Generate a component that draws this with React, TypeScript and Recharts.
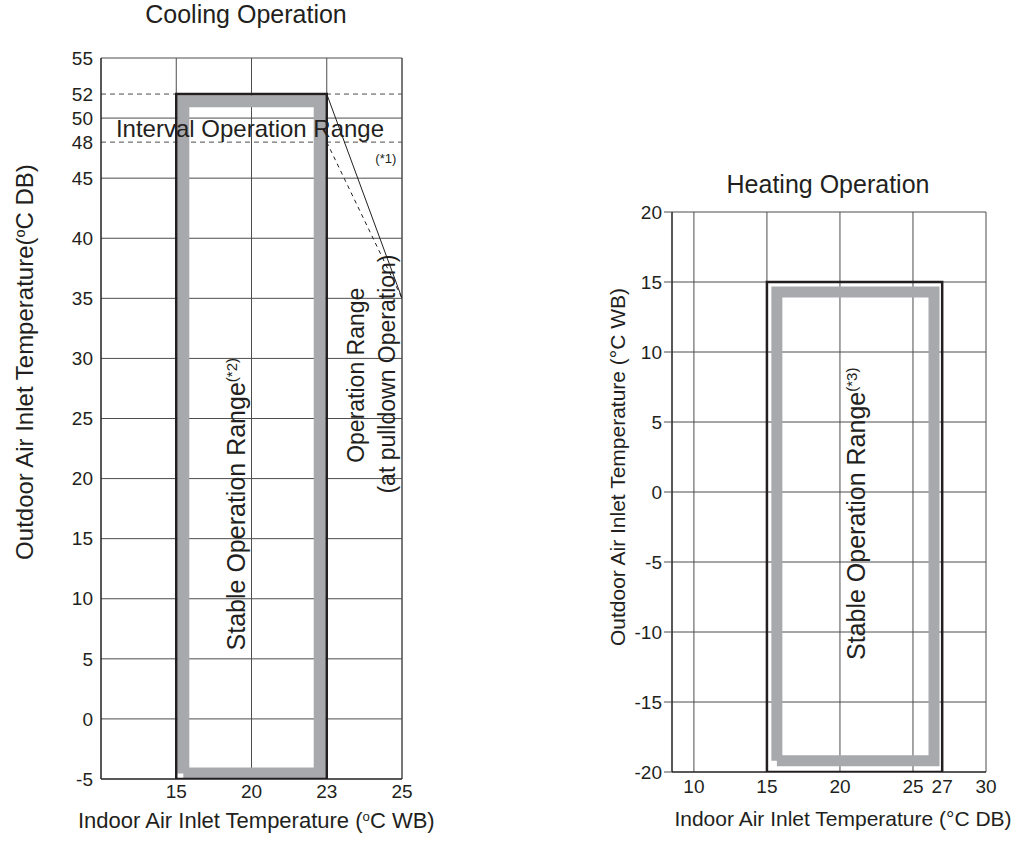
import React from "react";
import {
  ComposedChart,
  XAxis,
  YAxis,
  CartesianGrid,
  Line,
  ReferenceLine,
  ReferenceDot,
} from "recharts";

const FONT = '"Liberation Sans", Arial, sans-serif';
const INK = "#231f20";
const GRID = "#4d4d4d";
const BAND = "#a7a9ac";

// ---- Cooling operation ----
// the printed x ticks sit at equal spacing, so the axis runs on tick index
const coolXTicks = [15, 20, 23, 25];
const coolYTicks = [-5, 0, 5, 10, 15, 20, 25, 30, 35, 40, 45, 48, 50, 52, 55];
const coolGridX = [15, 20, 23, 25];
const coolGridY = [0, 5, 10, 15, 20, 25, 30, 35, 40, 45, 50, 55];
const coolDashY = [48, 52];
const coolRange = { x1: 15, x2: 23, y1: -5, y2: 52 };
const coolStable = { x1: 15.47, x2: 22.72, y1: -4.55, y2: 51.4 };
const coolPullSolid = [
  { t: 23, y: 52 },
  { t: 25, y: 35 },
];
const coolPullDash = [
  { t: 23, y: 48 },
  { t: 25, y: 35 },
];

// ---- Heating operation ----
const heatXTicks = [10, 15, 20, 25, 27, 30];
const heatYTicks = [-20, -15, -10, -5, 0, 5, 10, 15, 20];
const heatGridX = [10, 15, 20, 25, 30];
const heatGridY = [-15, -10, -5, 0, 5, 10, 15, 20];
const heatRange = { x1: 15, x2: 27, y1: -20, y2: 15 };
const heatStable = { x1: 15.68, x2: 26.44, y1: -19.2, y2: 14.28 };

// temperature -> position on the evenly spaced cooling axis
function cx(t: number) {
  const n = coolXTicks.length;
  for (let i = 0; i < n - 1; i++) {
    const a = coolXTicks[i];
    const b = coolXTicks[i + 1];
    if (t <= b || i === n - 2) return i + 1 + (t - a) / (b - a);
  }
  return 0;
}

type Box = { x1: number; x2: number; y1: number; y2: number };
// closed outline of a box, x passed through the axis mapping
function outline(b: Box, fx: (t: number) => number) {
  return [
    { x: fx(b.x1), y: b.y1 },
    { x: fx(b.x1), y: b.y2 },
    { x: fx(b.x2), y: b.y2 },
    { x: fx(b.x2), y: b.y1 },
    { x: fx(b.x1), y: b.y1 },
  ];
}
const same = (t: number) => t;

const Sup = ({ children }: { children: React.ReactNode }) => (
  <tspan baselineShift="super" fontSize="60%">
    {children}
  </tspan>
);

const txt = { fill: INK, fontFamily: FONT };

function rotatedText(content: React.ReactNode, size: number, anchor: "start" | "middle") {
  return (p: any) => (
    <text
      transform={`translate(${p.cx},${p.cy}) rotate(-90)`}
      textAnchor={anchor}
      fontSize={size}
      {...txt}
    >
      {content}
    </text>
  );
}

function CoolingChart() {
  const frame = coolGridX.map((t) => ({ x: cx(t) }));
  return (
    <div style={{ position: "absolute", left: 0, top: 0 }}>
      <ComposedChart
        width={1019}
        height={841}
        data={frame}
        margin={{ top: 58, right: 617, bottom: 32, left: 41 }}
      >
        <CartesianGrid
          horizontalValues={coolGridY}
          verticalValues={coolGridX.map(cx)}
          stroke={GRID}
          strokeWidth={1}
        />
        <XAxis
          dataKey="x"
          type="number"
          domain={[0, 4]}
          ticks={coolXTicks.map(cx)}
          interval={0}
          allowDataOverflow
          height={30}
          tickSize={4}
          tickLine={false}
          axisLine={{ stroke: INK, strokeWidth: 1.5 }}
          tick={{ ...txt, fontSize: 19 }}
          tickFormatter={(v: number) => String(coolXTicks[Math.round(v) - 1])}
          label={() => (
            <text x={78} y={828} fontSize={22} {...txt}>
              Indoor Air Inlet Temperature (<Sup>o</Sup>C WB)
            </text>
          )}
        />
        <YAxis
          type="number"
          domain={[-5, 55]}
          ticks={coolYTicks}
          interval={0}
          allowDataOverflow
          width={60}
          tickLine={false}
          axisLine={{ stroke: INK, strokeWidth: 1.5 }}
          tick={{ ...txt, fontSize: 19 }}
          label={() => (
            <g>
              <text x={246} y={23} textAnchor="middle" fontSize={25} {...txt}>
                Cooling Operation
              </text>
              <text transform="translate(33,362) rotate(-90)" textAnchor="middle" fontSize={24} {...txt}>
                Outdoor Air Inlet Temperature(<Sup>o</Sup>C DB)
              </text>
            </g>
          )}
        />
        <ReferenceLine x={4} stroke={GRID} ifOverflow="visible" />
        {coolDashY.map((y) => (
          <ReferenceLine key={y} y={y} stroke={GRID} strokeDasharray="5 4" ifOverflow="visible" />
        ))}
        <Line
          data={outline(coolStable, cx)}
          dataKey="y"
          type="linear"
          stroke={BAND}
          strokeWidth={12}
          strokeLinejoin="miter"
          dot={false}
          activeDot={false}
          isAnimationActive={false}
        />
        <Line
          data={outline(coolRange, cx)}
          dataKey="y"
          type="linear"
          stroke={INK}
          strokeWidth={2.5}
          strokeLinejoin="miter"
          dot={false}
          activeDot={false}
          isAnimationActive={false}
        />
        <Line
          data={coolPullSolid.map((p) => ({ x: cx(p.t), y: p.y }))}
          dataKey="y"
          type="linear"
          stroke={INK}
          strokeWidth={1}
          dot={false}
          activeDot={false}
          isAnimationActive={false}
        />
        <Line
          data={coolPullDash.map((p) => ({ x: cx(p.t), y: p.y }))}
          dataKey="y"
          type="linear"
          stroke={INK}
          strokeWidth={1}
          strokeDasharray="4 4"
          dot={false}
          activeDot={false}
          isAnimationActive={false}
        />
        <ReferenceDot
          x={cx(19.9)}
          y={48.4}
          ifOverflow="visible"
          shape={(p: any) => (
            <text x={p.cx} y={p.cy} textAnchor="middle" fontSize={24} {...txt}>
              Interval Operation Range
            </text>
          )}
        />
        <ReferenceDot
          x={cx(24.57)}
          y={46.3}
          ifOverflow="visible"
          shape={(p: any) => (
            <text x={p.cx} y={p.cy} textAnchor="middle" fontSize={13} {...txt}>
              (*1)
            </text>
          )}
        />
        <ReferenceDot
          x={cx(19.6)}
          y={5.7}
          ifOverflow="visible"
          shape={rotatedText(
            <>
              Stable Operation Range<Sup>(*2)</Sup>
            </>,
            25,
            "start"
          )}
        />
        <ReferenceDot x={cx(24.0)} y={28.6} ifOverflow="visible" shape={rotatedText("Operation Range", 23, "middle")} />
        <ReferenceDot
          x={cx(24.81)}
          y={28.7}
          ifOverflow="visible"
          shape={rotatedText("(at pulldown Operation)", 23, "middle")}
        />
      </ComposedChart>
    </div>
  );
}

function HeatingChart() {
  const frame = heatGridX.map((t) => ({ x: t }));
  return (
    <div style={{ position: "absolute", left: 0, top: 0 }}>
      <ComposedChart
        width={1019}
        height={841}
        data={frame}
        margin={{ top: 212, right: 33, bottom: 39, left: 612 }}
      >
        <CartesianGrid horizontalValues={heatGridY} verticalValues={heatGridX} stroke={GRID} strokeWidth={1} />
        <XAxis
          dataKey="x"
          type="number"
          domain={[8.5, 30]}
          ticks={heatXTicks}
          interval={0}
          allowDataOverflow
          height={30}
          tickLine={false}
          axisLine={{ stroke: INK, strokeWidth: 1.5 }}
          tick={{ ...txt, fontSize: 19 }}
          label={() => (
            <text x={843} y={826} textAnchor="middle" fontSize={21} {...txt}>
              Indoor Air Inlet Temperature (°C DB)
            </text>
          )}
        />
        <YAxis
          type="number"
          domain={[-20, 20]}
          ticks={heatYTicks}
          interval={0}
          allowDataOverflow
          width={60}
          tickSize={8}
          tickLine={{ stroke: GRID }}
          axisLine={{ stroke: INK, strokeWidth: 1.5 }}
          tick={{ ...txt, fontSize: 19 }}
          label={() => (
            <g>
              <text x={828} y={193} textAnchor="middle" fontSize={25} {...txt}>
                Heating Operation
              </text>
              <text transform="translate(625,467) rotate(-90)" textAnchor="middle" fontSize={21} {...txt}>
                Outdoor Air Inlet Temperature (°C WB)
              </text>
            </g>
          )}
        />
        <Line
          data={outline(heatStable, same)}
          dataKey="y"
          type="linear"
          stroke={BAND}
          strokeWidth={11}
          strokeLinejoin="miter"
          dot={false}
          activeDot={false}
          isAnimationActive={false}
        />
        <Line
          data={outline(heatRange, same)}
          dataKey="y"
          type="linear"
          stroke={INK}
          strokeWidth={2.5}
          strokeLinejoin="miter"
          dot={false}
          activeDot={false}
          isAnimationActive={false}
        />
        <ReferenceDot
          x={21.73}
          y={-12}
          ifOverflow="visible"
          shape={rotatedText(
            <>
              Stable Operation Range<Sup>(*3)</Sup>
            </>,
            25,
            "start"
          )}
        />
      </ComposedChart>
    </div>
  );
}

export default function App() {
  return (
    <div style={{ position: "absolute", left: 0, top: 0, width: 1019, height: 841, background: "#fff" }}>
      <CoolingChart />
      <HeatingChart />
    </div>
  );
}
